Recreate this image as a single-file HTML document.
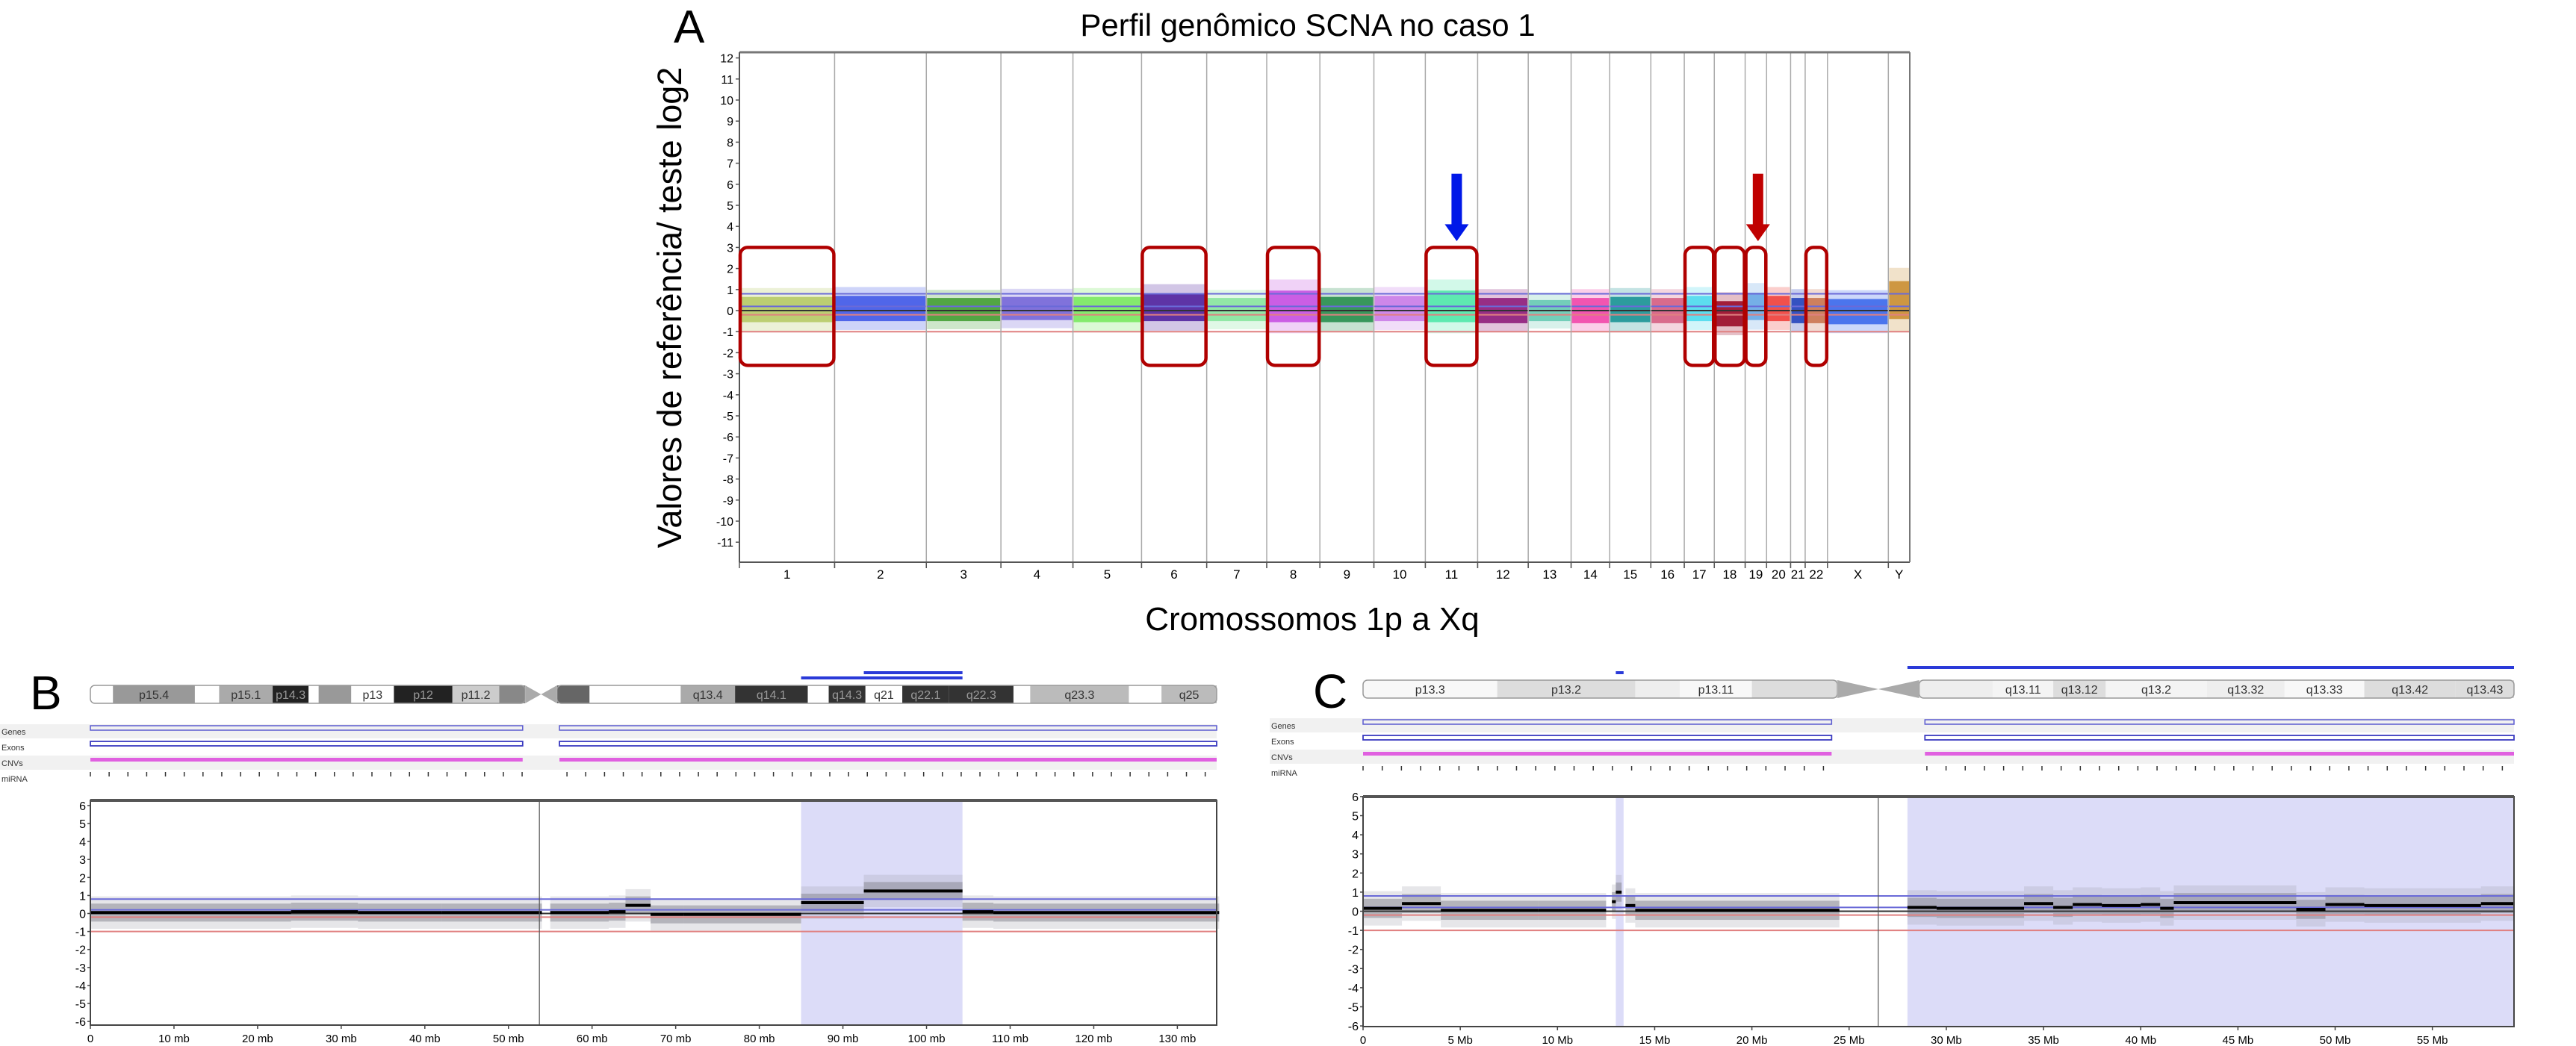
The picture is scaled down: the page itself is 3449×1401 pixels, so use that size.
<!DOCTYPE html>
<html><head><meta charset="utf-8"><style>
html,body{margin:0;padding:0;background:#fff;}
svg{display:block;font-family:"Liberation Sans",sans-serif;}
</style></head><body>
<svg id="root" width="3449" height="1401" viewBox="0 0 3449 1401" xmlns="http://www.w3.org/2000/svg">
<text x="902" y="57" font-size="62">A</text>
<text x="1751" y="48" font-size="42" text-anchor="middle">Perfil genômico SCNA no caso 1</text>
<text transform="translate(912,412) rotate(-90)" font-size="45" text-anchor="middle">Valores de referência/ teste log2</text>
<text x="1757" y="844" font-size="44" text-anchor="middle">Cromossomos 1p a Xq</text>
<g id="gA"></g>
<text x="40" y="950" font-size="64">B</text>
<g id="gB"></g>
<text x="1758" y="948" font-size="64">C</text>
<g id="gC"></g>
</svg>
<script>
// ---------- Panel A data ----------
const chromNames = ['1','2','3','4','5','6','7','8','9','10','11','12','13','14','15','16','17','18','19','20','21','22','X','Y'];
const chromSizes = [111,107,87,84,80,76,70,62,63,60,61,59,50,45,48,39,35,36,25,28,17,26,71,25];
const chromMeans = [0.05,0.1,0.05,0.1,0.05,0.15,0.05,0.2,0.05,0.1,0.2,0.0,0.0,0.0,0.05,0.0,0.1,-0.15,0.2,0.1,0.0,0.0,-0.05,0.5];
const chromSpread = [0.6,0.6,0.55,0.55,0.6,0.65,0.55,0.75,0.6,0.6,0.75,0.6,0.5,0.6,0.6,0.6,0.6,0.6,0.65,0.6,0.6,0.6,0.6,0.9];
const chromColors = ['#b4c860','#3a52e6','#3c9a2c','#7060d6','#74e85a','#4a1a9a','#84e49a','#c44ae0','#1e8a46','#c878e6','#4ae6a6','#8a1476','#62c8b0','#f040a6','#128f90','#d4587e','#48d8ec','#96001e','#64a4e4','#ee3a34','#1a3cb8','#c8704a','#3464ea','#c88a2a'];
const yTicksA = [12,11,10,9,8,7,6,5,4,3,2,1,0,-1,-2,-3,-4,-5,-6,-7,-8,-9,-10,-11];
const hLinesA = [0.8,0.2,0,-0.2,-1];
const hColorsA = ['#6a6ad8','#6a6ad8','#333','#e08080','#e08080'];
const boxStart = [0,5,7,10,16,17,18,21];
const boxEnd   = [0,5,7,10,16,17,18,21];
const arrowChrom = [10,18];
const arrowColors = ['#0018e8','#c00000'];

const NS='http://www.w3.org/2000/svg';
function mk(parent,tag,attrs,name){const e=document.createElementNS(NS,tag);for(const k in attrs)e.setAttribute(k,attrs[k]);


parent.appendChild(e);return e;}

(function(){
const g=document.getElementById('gA');
const L=990,R=2557,T=70,B=753;
const total=chromSizes.reduce((a,b)=>a+b,0);
const xs=v=>L+v/total*(R-L);
const ys=v=>416-v*28.2;
const starts=[];let acc=0;chromSizes.forEach(s=>{starts.push(acc);acc+=s;});
chromNames.forEach((c,i)=>{
  const x0=xs(starts[i])+1,x1=xs(starts[i]+chromSizes[i])-1;
  const m=chromMeans[i],s=chromSpread[i];
  mk(g,'rect',{x:x0,y:ys(m+s*1.7),width:x1-x0,height:ys(m-s*1.7)-ys(m+s*1.7),fill:chromColors[i],opacity:0.25},'scatter-halo-chr'+c);
  mk(g,'rect',{x:x0,y:ys(m+s),width:x1-x0,height:ys(m-s)-ys(m+s),fill:chromColors[i],opacity:0.85},'scatter-chr'+c);
});
hLinesA.forEach((v,i)=>mk(g,'line',{x1:L,x2:R,y1:ys(v),y2:ys(v),stroke:hColorsA[i],'stroke-width':2},'threshold-line'));
chromNames.forEach((c,i)=>{ if(i>0) mk(g,'line',{x1:xs(starts[i]),x2:xs(starts[i]),y1:T,y2:B+8,stroke:'#aaa','stroke-width':1.5},'chrom-separator');
  const t=mk(g,'text',{x:xs(starts[i]+chromSizes[i]/2),y:B+22,'font-size':17,'text-anchor':'middle'},'x-tick-label');t.textContent=c;
  mk(g,'line',{x1:xs(starts[i]),x2:xs(starts[i]),y1:B,y2:B+8,stroke:'#555','stroke-width':1.5},'x-tick');
});
mk(g,'line',{x1:L,x2:R,y1:T,y2:T,stroke:'#777','stroke-width':3},'top-border');
mk(g,'line',{x1:L,x2:R,y1:B,y2:B,stroke:'#555','stroke-width':2},'x-axis');
mk(g,'line',{x1:L,x2:L,y1:T,y2:B,stroke:'#555','stroke-width':2},'y-axis');
mk(g,'line',{x1:R,x2:R,y1:T,y2:B,stroke:'#777','stroke-width':2},'right-border');
yTicksA.forEach(v=>{mk(g,'line',{x1:L-5,x2:L,y1:ys(v),y2:ys(v),stroke:'#555','stroke-width':1.5},'y-tick');
 const t=mk(g,'text',{x:L-8,y:ys(v)+6,'font-size':16,'text-anchor':'end'},'y-tick-label');t.textContent=v;});
boxStart.forEach((b,i)=>{const x0=xs(starts[b]),x1=xs(starts[boxEnd[i]]+chromSizes[boxEnd[i]]);
 mk(g,'rect',{x:x0+1,y:ys(3),width:x1-x0-2,height:ys(-2.6)-ys(3),fill:'none',stroke:'#b00000','stroke-width':4.5,rx:10},'highlight-box');});
arrowChrom.forEach((c,i)=>{const cx=xs(starts[c]+chromSizes[c]*0.6);
 mk(g,'rect',{x:cx-7,y:ys(6.5),width:14,height:ys(4)-ys(6.5),fill:arrowColors[i]},'arrow-shaft');
 mk(g,'polygon',{points:`${cx-16},${ys(4.1)} ${cx+16},${ys(4.1)} ${cx},${ys(3.3)}`,fill:arrowColors[i]},'arrow-head');});
})();

// ---------- Panel B data ----------
const bSegStart=[0,24,32,42,55,62,64,67,71,85,92.5,104.3,108];
const bSegEnd  =[24,32,42,54,62,64,67,71,85,92.5,104.3,108,135];
const bSegVal  =[0.05,0.1,0.05,0.05,0.05,0.1,0.45,-0.05,-0.05,0.6,1.25,0.1,0.05];
const bTicks=[0,10,20,30,40,50,60,70,80,90,100,110,120,130];
const bBandStart=[0,2.7,12.5,15.4,21.8,26.1,27.3,31.2,36.3,43.3,48.9,55.8,59.7,70.6,77.1,85.8,88.3,92.7,97.1,102.7,110.4,112.4,124.2,128.1];
const bBandEnd  =[2.7,12.5,15.4,21.8,26.1,27.3,31.2,36.3,43.3,48.9,52,59.7,70.6,77.1,85.8,88.3,92.7,97.1,102.7,110.4,112.4,124.2,128.1,134.7];
const bBandShade=['#fff','#999','#fff','#aaa','#222','#fff','#999','#fff','#222','#ccc','#888','#666','#fff','#aaa','#333','#fff','#333','#fff','#333','#333','#fff','#bbb','#fff','#bbb'];
const bBandLabels=['','p15.4','','p15.1','p14.3','','','p13','p12','p11.2','','','','q13.4','q14.1','','q14.3','q21','q22.1','q22.3','','q23.3','','q25'];
const bHighlight=[[85,104.3]];
const bCnvBars=[[85,104.3],[92.5,104.3]];
// ---------- Panel C data ----------
const cSegStart=[0,2,4,9,12.8,13,13.5,14,28,29.5,34,35.5,36.5,38,40,41,41.7,48,49.5,51.5,57.5];
const cSegEnd  =[2,4,9,12.5,13,13.3,14,24.5,29.5,34,35.5,36.5,38,40,41,41.7,48,49.5,51.5,57.5,59.2];
const cSegVal  =[0.15,0.4,0.05,0.05,0.5,1.0,0.3,0.05,0.2,0.15,0.4,0.2,0.35,0.3,0.35,0.15,0.45,0.1,0.35,0.3,0.4];
const cTicks=[0,5,10,15,20,25,30,35,40,45,50,55];
const cBandStart=[0,6.9,14,16.3,20,28.6,32.4,35.5,38.2,43.4,47.4,51.5,56.2];
const cBandEnd  =[6.9,14,16.3,20,24.4,32.4,35.5,38.2,43.4,47.4,51.5,56.2,59.2];
const cBandShade=['#f8f8f8','#ddd','#eee','#f8f8f8','#ddd','#eee','#f4f4f4','#ddd','#f4f4f4','#eee','#f8f8f8','#ddd','#ddd'];
const cBandLabels=['p13.3','p13.2','','p13.11','','','q13.11','q13.12','q13.2','q13.32','q13.33','q13.42','q13.43'];
const cHighlight=[[13,13.4],[28,59.2]];
const cCnvBars=[[13,13.4],[28,59.2]];
const yTicksBC=[6,5,4,3,2,1,0,-1,-2,-3,-4,-5,-6];

function panel(gid,cfg){
 const g=document.getElementById(gid);
 const {L,R,T,B,max,zero,unit,unitLbl,cen}=cfg;
 const xs=v=>L+v/max*(R-L), ys=v=>zero-v*unit;
 const iy=cfg.iy, ih=24;
 cfg.bs.forEach((s,i)=>{mk(g,'rect',{x:xs(s),y:iy,width:xs(cfg.be[i])-xs(s),height:ih,fill:cfg.sh[i]},'ideogram-band');
  if(cfg.lb[i]){const t=mk(g,'text',{x:(xs(s)+xs(cfg.be[i]))/2,y:iy+18,'font-size':16,'text-anchor':'middle',fill:(cfg.sh[i]=='#222'||cfg.sh[i]=='#333')?'#999':'#333'},'band-label');t.textContent=cfg.lb[i];}});
 mk(g,'rect',{x:xs(0),y:iy,width:xs(cen[0])-xs(0),height:ih,fill:'none',stroke:'#999','stroke-width':1.5,rx:6},'ideogram-p-arm');
 mk(g,'rect',{x:xs(cen[1]),y:iy,width:xs(max)-xs(cen[1]),height:ih,fill:'none',stroke:'#999','stroke-width':1.5,rx:6},'ideogram-q-arm');
 mk(g,'rect',{x:xs(cen[0]),y:iy-1,width:xs(cen[1])-xs(cen[0]),height:ih+2,fill:'#fff'},'centromere-bg');
 const cm=(xs(cen[0])+xs(cen[1]))/2;
 mk(g,'polygon',{points:`${xs(cen[0])},${iy} ${cm},${iy+ih/2} ${xs(cen[0])},${iy+ih}`,fill:'#aaa'},'centromere');
 mk(g,'polygon',{points:`${xs(cen[1])},${iy} ${cm},${iy+ih/2} ${xs(cen[1])},${iy+ih}`,fill:'#aaa'},'centromere');
 cfg.cnv.forEach((c,i)=>mk(g,'rect',{x:xs(c[0]),y:iy-12-i*7,width:xs(c[1])-xs(c[0]),height:4,fill:'#2a3ad8'},'cnv-call-bar'));
 const ty=cfg.ty;
 [['Genes',0],['Exons',21],['CNVs',42],['miRNA',63]].forEach(([n,o],i)=>{
  if(i%2==0) mk(g,'rect',{x:cfg.lx,y:ty+o,width:R-cfg.lx,height:19,fill:'#f1f1f1'},'track-bg');
  const t=mk(g,'text',{x:cfg.lx+2,y:ty+o+14,'font-size':11,fill:'#333'},'track-label');t.textContent=n;});
 [[0,cen[0]-0.3],[cen[1]+0.3,max]].forEach(a=>{
  mk(g,'rect',{x:xs(a[0]),y:ty+2,width:xs(a[1])-xs(a[0]),height:6,fill:'none',stroke:'#5a5ad0','stroke-width':1.5},'genes-track');
  mk(g,'rect',{x:xs(a[0]),y:ty+23,width:xs(a[1])-xs(a[0]),height:6,fill:'none',stroke:'#3a3ac0','stroke-width':1.8},'exons-track');
  mk(g,'rect',{x:xs(a[0]),y:ty+45,width:xs(a[1])-xs(a[0]),height:5,fill:'#e060e0'},'cnvs-track');
  for(let k=Math.ceil(a[0]);k<a[1];k+=max/60) mk(g,'line',{x1:xs(k),x2:xs(k),y1:ty+64,y2:ty+70,stroke:'#333','stroke-width':1.5},'mirna-tick');
 });
 cfg.hl.forEach(h=>mk(g,'rect',{x:xs(h[0]),y:T,width:xs(h[1])-xs(h[0]),height:B-T,fill:'#dcdcf8'},'highlight-region'));
 cfg.ss.forEach((s,i)=>{const v=cfg.sv[i];
  mk(g,'rect',{x:xs(s),y:ys(v+0.9),width:xs(cfg.se[i])-xs(s),height:ys(v-0.9)-ys(v+0.9),fill:'#9a9aa8',opacity:0.25},'scatter-halo');
  mk(g,'rect',{x:xs(s),y:ys(v+0.5),width:xs(cfg.se[i])-xs(s),height:ys(v-0.5)-ys(v+0.5),fill:'#8a8a96',opacity:0.55},'scatter-core');});
 hLinesA.forEach((v,i)=>mk(g,'line',{x1:L,x2:R,y1:ys(v),y2:ys(v),stroke:hColorsA[i],'stroke-width':2},'threshold-line'));
 cfg.ss.forEach((s,i)=>mk(g,'line',{x1:xs(s),x2:xs(cfg.se[i]),y1:ys(cfg.sv[i]),y2:ys(cfg.sv[i]),stroke:'#000','stroke-width':4},'segment-mean'));
 mk(g,'line',{x1:xs(cfg.div),x2:xs(cfg.div),y1:T,y2:B,stroke:'#555','stroke-width':1.2},'centromere-divider');
 mk(g,'rect',{x:L,y:T,width:R-L,height:B-T,fill:'none',stroke:'#444','stroke-width':2},'plot-frame');
 mk(g,'line',{x1:L,x2:R,y1:T,y2:T,stroke:'#555','stroke-width':4},'top-border');
 yTicksBC.forEach(v=>{mk(g,'line',{x1:L-4,x2:L,y1:ys(v),y2:ys(v),stroke:'#444','stroke-width':1.5},'y-tick');
  const t=mk(g,'text',{x:L-6,y:ys(v)+6,'font-size':16,'text-anchor':'end'},'y-tick-label');t.textContent=v;});
 cfg.ticks.forEach(v=>{mk(g,'line',{x1:xs(v),x2:xs(v),y1:B,y2:B+5,stroke:'#444','stroke-width':1.5},'x-tick');
  const t=mk(g,'text',{x:xs(v),y:B+23,'font-size':15,'text-anchor':'middle'},'x-tick-label');t.textContent=v===0?'0':v+' '+unitLbl;});
}
panel('gB',{L:121,R:1629,T:1072,B:1373,max:134.7,zero:1223.5,unit:24.1,unitLbl:'mb',cen:[52,55.8],iy:918,ty:970,lx:0,
 bs:bBandStart,be:bBandEnd,sh:bBandShade,lb:bBandLabels,cnv:bCnvBars,hl:bHighlight,ss:bSegStart,se:bSegEnd,sv:bSegVal,div:53.7,ticks:bTicks});
panel('gC',{L:1825,R:3366,T:1067,B:1375,max:59.2,zero:1220.5,unit:25.6,unitLbl:'Mb',cen:[24.4,28.6],iy:911,ty:962,lx:1700,
 bs:cBandStart,be:cBandEnd,sh:cBandShade,lb:cBandLabels,cnv:cCnvBars,hl:cHighlight,ss:cSegStart,se:cSegEnd,sv:cSegVal,div:26.5,ticks:cTicks});
</script>
</body></html>
